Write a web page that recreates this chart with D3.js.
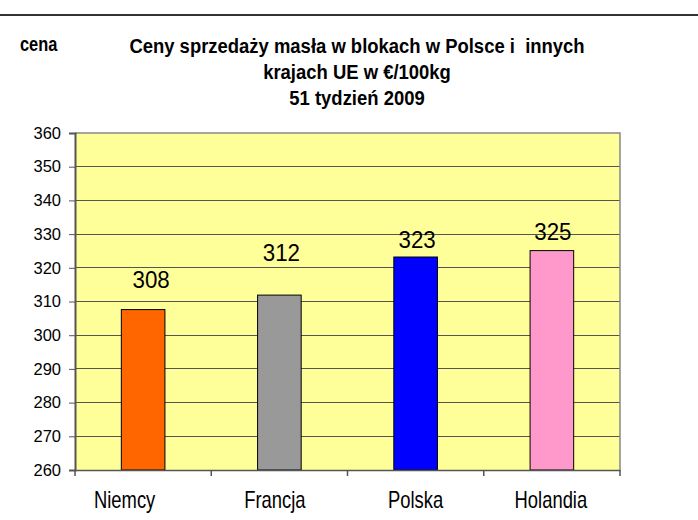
<!DOCTYPE html>
<html><head><meta charset="utf-8">
<script src="https://cdn.jsdelivr.net/npm/d3@7"></script>
<style>
html,body{margin:0;padding:0;background:#fff;}
svg{display:block;font-family:"Liberation Sans",Arial,sans-serif;}
text{white-space:pre;}
</style></head>
<body>
<svg id="chart" width="698" height="520"></svg>
<script>
// ---- data ----
const categories = ["Niemcy", "Francja", "Polska", "Holandia"];
const values = [307.6, 311.9, 323.2, 325.1];
const barColors = ["#FF6600", "#999999", "#0000FF", "#FF99CC"];
const yTicks = [260, 270, 280, 290, 300, 310, 320, 330, 340, 350, 360];
const titleLines = ["Ceny sprzedaży masła w blokach w Polsce i  innych", "krajach UE w €/100kg", "51 tydzień 2009"];
const yAxisTitle = "cena";

// ---- layout ----
const svg = d3.select("#chart");
const L = 75, R = 620, T = 133, B = 470;

const x = d3.scaleBand().domain(categories).range([L, R]).paddingInner(0).paddingOuter(0);
const y = d3.scaleLinear().domain([260, 360]).range([B, T]);
const barW = x.bandwidth() * 0.32;

// top rule
svg.append("line").attr("x1", 0).attr("x2", 698).attr("y1", 15).attr("y2", 15)
  .attr("stroke", "#333").attr("stroke-width", 2);

// plot background
svg.append("rect").attr("x", L).attr("y", T).attr("width", R - L).attr("height", B - T)
  .attr("fill", "#FFFF99");

// gridlines
svg.append("g").selectAll("line").data(yTicks.filter(t => t > 260 && t < 360)).join("line")
  .attr("x1", L).attr("x2", R).attr("y1", d => y(d)).attr("y2", d => y(d))
  .attr("stroke", "#555").attr("stroke-width", 1).attr("shape-rendering", "crispEdges");

// top & right border
svg.append("path").attr("d", `M${L},${T}H${R}V${B}`).attr("fill", "none")
  .attr("stroke", "#888").attr("stroke-width", 1.5);

// bars
svg.append("g").selectAll("rect").data(values).join("rect")
  .attr("x", (d, i) => x(categories[i]) + x.bandwidth() / 2 - barW / 2)
  .attr("y", d => y(d))
  .attr("width", barW)
  .attr("height", d => y(260) - y(d))
  .attr("fill", (d, i) => barColors[i])
  .attr("stroke", "#000").attr("stroke-width", 1);

// value labels (hand-placed in source chart; lifts/shift in px)
const labelLift = [22, 34, 9, 10.5];
const labelShift = [8, 2, 1.5, 1];
svg.append("g").selectAll("text").data(values).join("text")
  .attr("transform", (d, i) => `translate(${x(categories[i]) + x.bandwidth() / 2 + labelShift[i]},${y(d) - labelLift[i]}) scale(0.93,1)`)
  .attr("text-anchor", "middle")
  .attr("font-size", 24)
  .attr("fill", "#000")
  .text(d => d3.format(".0f")(d));

// y axis
const yAxis = d3.axisLeft(y).tickValues(yTicks).tickSize(6).tickPadding(8).tickFormat(d3.format("d"));
const gy = svg.append("g").attr("transform", `translate(${L},0)`).call(yAxis);
gy.select(".domain").attr("stroke", "#555").attr("stroke-width", 2);
gy.selectAll(".tick line").attr("stroke", "#555");
gy.selectAll("text").attr("font-size", 16.5).attr("fill", "#000")
  .attr("font-family", "'Liberation Sans',Arial,sans-serif");

// x axis
const xAxis = d3.axisBottom(x).tickSize(0).tickFormat("");
const gx = svg.append("g").attr("transform", `translate(0,${B})`).call(xAxis);
gx.select(".domain").attr("stroke", "#555").attr("stroke-width", 1.5);
gx.selectAll(".tick").remove();
// category boundary ticks
const bounds = categories.map(c => x(c)).concat([R]);
svg.append("g").selectAll("line").data(bounds).join("line")
  .attr("x1", d => d).attr("x2", d => d).attr("y1", B).attr("y2", B + 6)
  .attr("stroke", "#555").attr("stroke-width", 1.5);

// category labels (condensed)
const catShift = [-18.5, -4.5, 0, -1];
svg.append("g").selectAll("text").data(categories).join("text")
  .attr("transform", (d, i) => `translate(${x(d) + x.bandwidth() / 2 + catShift[i]},508) scale(0.8,1)`)
  .attr("text-anchor", "middle")
  .attr("font-size", 23)
  .attr("fill", "#000")
  .text(d => d);

// title (bold, condensed)
const titleY = [53, 79, 105];
svg.append("g").selectAll("text").data(titleLines).join("text")
  .attr("transform", (d, i) => `translate(357,${titleY[i]}) scale(0.9,1)`)
  .attr("text-anchor", "middle")
  .attr("font-size", 20.5)
  .attr("font-weight", "bold")
  .attr("fill", "#000")
  .text(d => d);

// axis title
svg.append("text")
  .attr("transform", "translate(20,51) scale(0.82,1)")
  .attr("font-size", 20).attr("font-weight", "bold").attr("fill", "#000")
  .text(yAxisTitle);
</script>
</body></html>
